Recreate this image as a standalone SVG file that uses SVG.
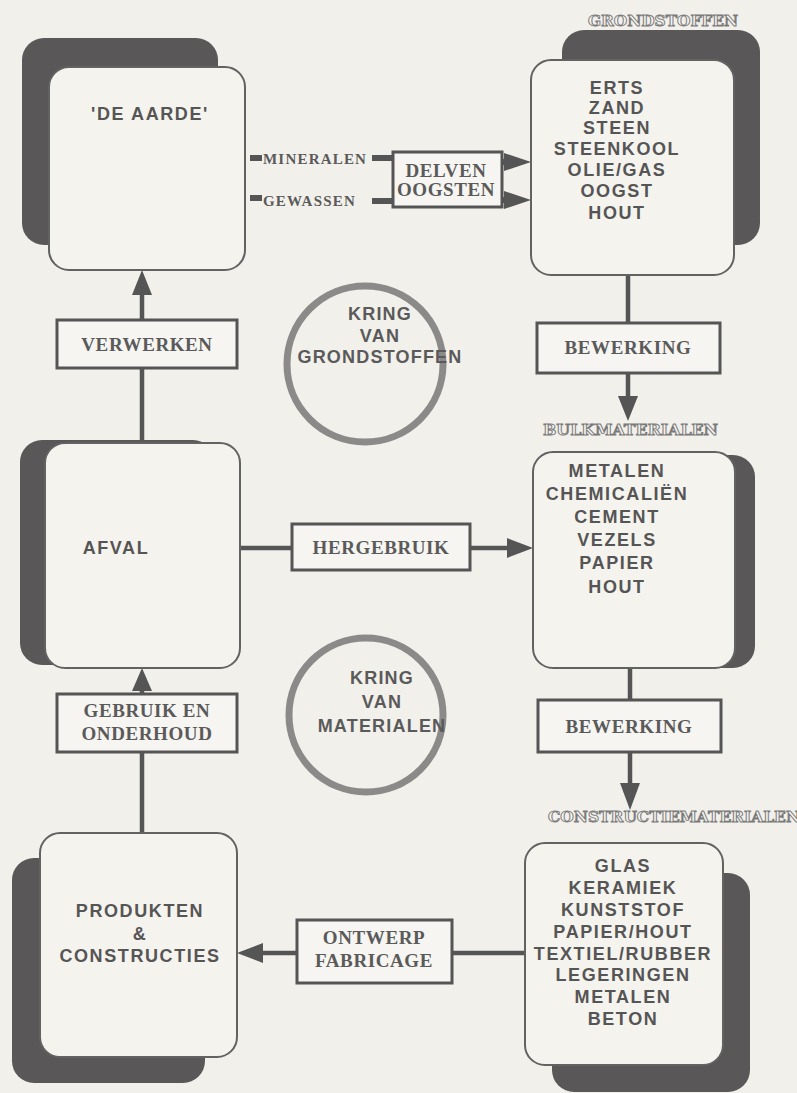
<svg xmlns="http://www.w3.org/2000/svg" width="797" height="1093" viewBox="0 0 797 1093">
  <defs>
    <style>
      .bg { fill: #f2f0eb; }
      .shadow { fill: #595757; }
      .card { fill: #f5f3ee; stroke: #626262; stroke-width: 2; }
      .label { fill: #f6f5f1; stroke: #555; stroke-width: 3; }
      .wire { stroke: #555; stroke-width: 4.5; fill: none; }
      .head { fill: #555; }
      .ring { fill: none; stroke: #8b8a88; stroke-width: 7; }
      .sans { font-family: "Liberation Sans", Arial, sans-serif; font-size: 18px; font-weight: bold; fill: #555; text-anchor: middle; letter-spacing: 1.6px; }
      .ringtxt { font-family: "Liberation Sans", Arial, sans-serif; font-size: 18px; font-weight: bold; fill: #5a5a5a; text-anchor: middle; letter-spacing: 1.2px; }
      .serif { font-family: "Liberation Serif", "Times New Roman", serif; font-size: 19px; font-weight: bold; fill: #5a5a5a; text-anchor: middle; letter-spacing: 0.6px; }
      .small { font-family: "Liberation Serif", "Times New Roman", serif; font-size: 15px; font-weight: bold; fill: #5a5a5a; letter-spacing: 1.2px; }
      .outline { font-family: "DejaVu Serif", serif; font-size: 14px; font-weight: bold; fill: #f4f3ef; stroke: #7a7a7a; stroke-width: 0.9; }
    </style>
  </defs>

  <rect class="bg" x="0" y="0" width="797" height="1093"/>

  <!-- section headings in outline lettering -->
  <g id="headings">
    <text class="outline" x="588" y="26" textLength="150" lengthAdjust="spacingAndGlyphs">GRONDSTOFFEN</text>
    <text class="outline" x="543" y="435" textLength="175" lengthAdjust="spacingAndGlyphs">BULKMATERIALEN</text>
    <text class="outline" x="548" y="822" textLength="252" lengthAdjust="spacingAndGlyphs">CONSTRUCTIEMATERIALEN</text>
  </g>

  <!-- connectors -->
  <g id="connectors">
    <!-- aarde -> grondstoffen -->
    <rect class="head" x="250" y="155" width="12" height="6"/>
    <rect class="head" x="250" y="195" width="12" height="6"/>
    <line class="wire" x1="372" y1="158" x2="393" y2="158" style="stroke-width:6"/>
    <line class="wire" x1="372" y1="201" x2="393" y2="201" style="stroke-width:6"/>
    <line class="wire" x1="502" y1="162" x2="506" y2="162" style="stroke-width:6"/>
    <line class="wire" x1="502" y1="200" x2="506" y2="200" style="stroke-width:6"/>
    <polygon class="head" points="504,153 504,171 531,162"/>
    <polygon class="head" points="504,191 504,209 531,200"/>

    <!-- grondstoffen -> bulk -->
    <line class="wire" x1="628" y1="275" x2="628" y2="323"/>
    <line class="wire" x1="628" y1="373" x2="628" y2="398"/>
    <polygon class="head" points="618,396 638,396 628,421"/>

    <!-- bulk -> constructie -->
    <line class="wire" x1="630" y1="668" x2="630" y2="700"/>
    <line class="wire" x1="630" y1="752" x2="630" y2="785"/>
    <polygon class="head" points="620,783 640,783 630,810"/>

    <!-- constructie -> produkten -->
    <line class="wire" x1="525" y1="953" x2="452" y2="953"/>
    <line class="wire" x1="297" y1="953" x2="260" y2="953"/>
    <polygon class="head" points="263,943 263,963 237,953"/>

    <!-- produkten -> afval -->
    <line class="wire" x1="142" y1="833" x2="142" y2="752"/>
    <line class="wire" x1="142" y1="694" x2="142" y2="688"/>
    <polygon class="head" points="132,691 152,691 142,668"/>

    <!-- afval -> bulk -->
    <line class="wire" x1="240" y1="548" x2="292" y2="548"/>
    <line class="wire" x1="470" y1="548" x2="509" y2="548"/>
    <polygon class="head" points="507,538 507,558 533,548"/>

    <!-- afval -> aarde -->
    <line class="wire" x1="142" y1="443" x2="142" y2="368"/>
    <line class="wire" x1="142" y1="320" x2="142" y2="293"/>
    <polygon class="head" points="132,295 152,295 142,270"/>
  </g>

  <!-- connector labels -->
  <g id="label-delven">
    <text class="small" x="263" y="164">MINERALEN</text>
    <text class="small" x="263" y="206">GEWASSEN</text>
    <rect class="label" x="393" y="152" width="109" height="55"/>
    <text class="serif" x="446" y="177">DELVEN</text>
    <text class="serif" x="446" y="196">OOGSTEN</text>
  </g>
  <g id="label-bewerking-1">
    <rect class="label" x="537" y="323" width="183" height="50"/>
    <text class="serif" x="628" y="354">BEWERKING</text>
  </g>
  <g id="label-bewerking-2">
    <rect class="label" x="538" y="700" width="183" height="52"/>
    <text class="serif" x="629" y="733">BEWERKING</text>
  </g>
  <g id="label-ontwerp">
    <rect class="label" x="297" y="920" width="155" height="63"/>
    <text class="serif" x="374" y="944">ONTWERP</text>
    <text class="serif" x="374" y="967">FABRICAGE</text>
  </g>
  <g id="label-gebruik">
    <rect class="label" x="57" y="694" width="180" height="58"/>
    <text class="serif" x="147" y="717">GEBRUIK EN</text>
    <text class="serif" x="147" y="740">ONDERHOUD</text>
  </g>
  <g id="label-hergebruik">
    <rect class="label" x="292" y="524" width="178" height="46"/>
    <text class="serif" x="381" y="554">HERGEBRUIK</text>
  </g>
  <g id="label-verwerken">
    <rect class="label" x="57" y="320" width="180" height="48"/>
    <text class="serif" x="147" y="351">VERWERKEN</text>
  </g>

  <!-- cycles -->
  <g id="kring-grondstoffen">
    <circle class="ring" cx="365" cy="364" r="78"/>
    <text class="ringtxt" x="380" y="320">KRING</text>
    <text class="ringtxt" x="380" y="342">VAN</text>
    <text class="ringtxt" x="380" y="363">GRONDSTOFFEN</text>
  </g>
  <g id="kring-materialen">
    <circle class="ring" cx="366" cy="715" r="77"/>
    <text class="ringtxt" x="382" y="684">KRING</text>
    <text class="ringtxt" x="382" y="708">VAN</text>
    <text class="ringtxt" x="382" y="732">MATERIALEN</text>
  </g>

  <!-- nodes -->
  <g id="node-aarde">
    <rect class="shadow" x="22" y="38" width="196" height="207" rx="22"/>
    <rect class="card" x="49" y="67" width="196" height="203" rx="20"/>
    <text class="sans" x="150" y="120">'DE AARDE'</text>
  </g>

  <g id="node-grondstoffen">
    <rect class="shadow" x="562" y="30" width="198" height="215" rx="22"/>
    <rect class="card" x="531" y="60" width="203" height="215" rx="20"/>
    <text class="sans" x="617" y="94">ERTS</text>
    <text class="sans" x="617" y="114">ZAND</text>
    <text class="sans" x="617" y="134">STEEN</text>
    <text class="sans" x="617" y="155">STEENKOOL</text>
    <text class="sans" x="617" y="176">OLIE/GAS</text>
    <text class="sans" x="617" y="197">OOGST</text>
    <text class="sans" x="617" y="219">HOUT</text>
  </g>

  <g id="node-bulk">
    <rect class="shadow" x="555" y="455" width="200" height="213" rx="22"/>
    <rect class="card" x="533" y="452" width="202" height="216" rx="20"/>
    <text class="sans" x="617" y="477">METALEN</text>
    <text class="sans" x="617" y="500">CHEMICALIËN</text>
    <text class="sans" x="617" y="523">CEMENT</text>
    <text class="sans" x="617" y="546">VEZELS</text>
    <text class="sans" x="617" y="569">PAPIER</text>
    <text class="sans" x="617" y="593">HOUT</text>
  </g>

  <g id="node-constructie">
    <rect class="shadow" x="552" y="873" width="198" height="219" rx="22"/>
    <rect class="card" x="525" y="843" width="198" height="222" rx="20"/>
    <text class="sans" x="623" y="872">GLAS</text>
    <text class="sans" x="623" y="894">KERAMIEK</text>
    <text class="sans" x="623" y="916">KUNSTSTOF</text>
    <text class="sans" x="623" y="938">PAPIER/HOUT</text>
    <text class="sans" x="623" y="960">TEXTIEL/RUBBER</text>
    <text class="sans" x="623" y="981">LEGERINGEN</text>
    <text class="sans" x="623" y="1003">METALEN</text>
    <text class="sans" x="623" y="1025">BETON</text>
  </g>

  <g id="node-produkten">
    <rect class="shadow" x="12" y="858" width="193" height="225" rx="22"/>
    <rect class="card" x="40" y="833" width="197" height="224" rx="20"/>
    <text class="sans" x="140" y="917">PRODUKTEN</text>
    <text class="sans" x="140" y="940">&amp;</text>
    <text class="sans" x="140" y="962">CONSTRUCTIES</text>
  </g>

  <g id="node-afval">
    <rect class="shadow" x="20" y="440" width="195" height="225" rx="22"/>
    <rect class="card" x="45" y="443" width="195" height="225" rx="20"/>
    <text class="sans" x="116" y="554">AFVAL</text>
  </g>
</svg>
